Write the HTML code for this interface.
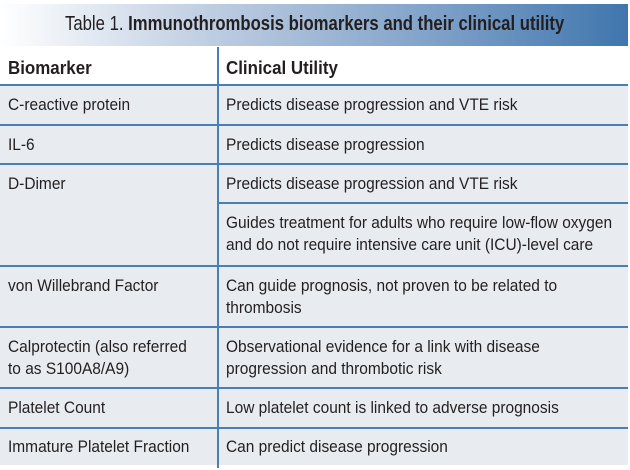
<!DOCTYPE html>
<html><head><meta charset="utf-8"><style>
html,body{margin:0;padding:0;background:#fff;}
#t{position:relative;width:630px;height:470px;overflow:hidden;font-family:"Liberation Sans",Arial,sans-serif;color:#231f20;}
.bg{position:absolute;left:0;width:628px;background:#e8ecf1;}
.hl{position:absolute;height:2px;background:#4a7fb5;}
.vl{position:absolute;width:2px;background:#4a7fb5;}
.tx{position:absolute;font-size:17px;line-height:22px;white-space:nowrap;transform:scaleX(0.91);transform-origin:0 0;}
.b{font-weight:bold;}
</style></head><body>
<div id="t">
<div style="position:absolute;left:0;top:4px;width:628px;height:42px;background:linear-gradient(to right,#ffffff 0%,#c4d2e4 30%,#7ea0c8 70%,#3f76ad 100%);"></div>
<div class="tx" style="left:65px;top:13px;font-size:20px;transform:scaleX(0.835);">Table 1. <b>Immunothrombosis biomarkers and their clinical utility</b></div>
<div class="bg" style="top:85px;height:380px;"></div>
<div class="tx b" style="left:8px;top:57px;font-size:18px;transform:scaleX(0.94);">Biomarker</div>
<div class="tx b" style="left:226px;top:57px;font-size:18px;transform:scaleX(0.94);">Clinical Utility</div>
<div class="hl" style="left:0;width:628px;top:84px;"></div>
<div class="hl" style="left:0;width:628px;top:124px;"></div>
<div class="hl" style="left:0;width:628px;top:163px;"></div>
<div class="hl" style="left:218px;width:410px;top:202px;"></div>
<div class="hl" style="left:0;width:628px;top:265px;"></div>
<div class="hl" style="left:0;width:628px;top:326px;"></div>
<div class="hl" style="left:0;width:628px;top:387px;"></div>
<div class="hl" style="left:0;width:628px;top:427px;"></div>
<div class="vl" style="left:217px;top:47px;height:421px;"></div>

<div class="tx" style="left:8px;top:94px;">C-reactive protein</div>
<div class="tx" style="left:226px;top:94px;">Predicts disease progression and VTE risk</div>
<div class="tx" style="left:8px;top:134px;">IL-6</div>
<div class="tx" style="left:226px;top:134px;">Predicts disease progression</div>
<div class="tx" style="left:8px;top:173px;">D-Dimer</div>
<div class="tx" style="left:226px;top:173px;">Predicts disease progression and VTE risk</div>
<div class="tx" style="left:226px;top:212px;">Guides treatment for adults who require low-flow oxygen<br>and do not require intensive care unit (ICU)-level care</div>
<div class="tx" style="left:8px;top:275px;">von Willebrand Factor</div>
<div class="tx" style="left:226px;top:275px;">Can guide prognosis, not proven to be related to<br>thrombosis</div>
<div class="tx" style="left:8px;top:336px;">Calprotectin (also referred<br>to as S100A8/A9)</div>
<div class="tx" style="left:226px;top:336px;">Observational evidence for a link with disease<br>progression and thrombotic risk</div>
<div class="tx" style="left:8px;top:397px;">Platelet Count</div>
<div class="tx" style="left:226px;top:397px;">Low platelet count is linked to adverse prognosis</div>
<div class="tx" style="left:8px;top:436px;">Immature Platelet Fraction</div>
<div class="tx" style="left:226px;top:436px;">Can predict disease progression</div>
</div>
</body></html>
